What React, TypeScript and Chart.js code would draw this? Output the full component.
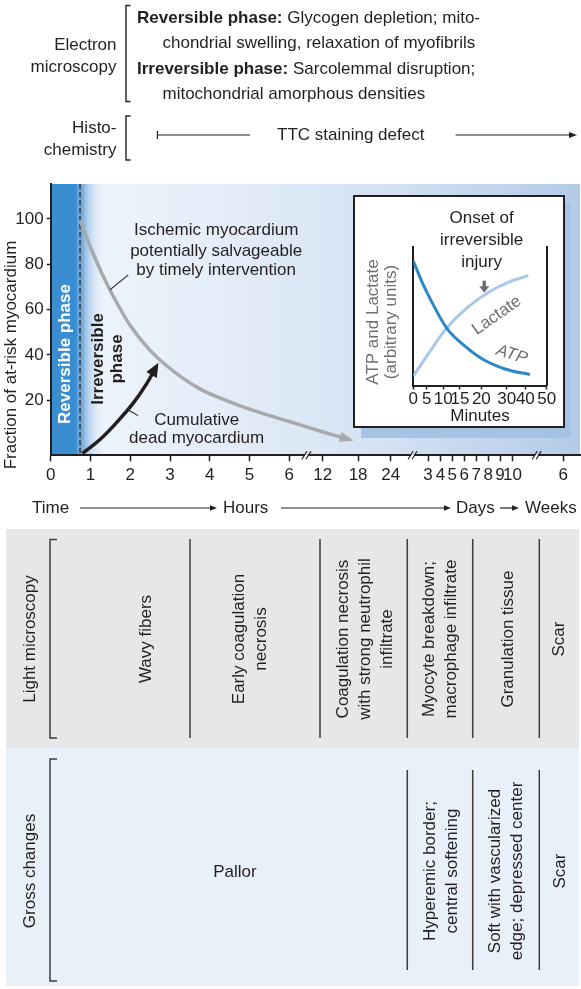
import React, { useEffect, useRef } from 'react';
import { Chart, registerables } from 'chart.js';

Chart.register(...registerables);

const FONT = '"Liberation Sans", Arial, Helvetica, sans-serif';
const INK = '#231f20';

// ===== Main chart data (broken time axis; 1 axis unit = 1 hour on the hours segment) =====
const timeTickValues = [0, 1, 2, 3, 4, 5, 6, 6.84, 7.73, 8.55, 9.49, 9.8, 10.1, 10.4, 10.7, 11.0, 11.3, 11.61, 12.89];
const timeTickLabels = ['0', '1', '2', '3', '4', '5', '6', '12', '18', '24', '3', '4', '5', '6', '7', '8', '9', '10', '6'];
const axisBreaks = [6.43, 9.1, 12.22];
const fractionTicks = [20, 40, 60, 80, 100];

const salvageableTime = [0.74, 1.0, 1.3, 1.6, 2.0, 2.5, 3.0, 3.75, 4.5, 5.25, 6.0, 6.85, 7.52];
const salvageableFraction = [99.5, 87.5, 75.5, 65, 53, 42, 34, 25, 19.3, 14.6, 10.6, 6.0, 2.6];

const deadTime = [0.8, 1.24, 1.66, 2.08, 2.41, 2.66];
const deadFraction = [-3.4, 2.7, 10.2, 18.8, 27.2, 35];

const reversibleEnd = 0.737;

// ===== Inset data =====
const minuteTickValues = [0, 5, 11.2, 17.5, 25.5, 35.0, 42.0, 50];
const minuteTickLabels = ['0', '5', '10', '15', '20', '30', '40', '50'];
const atpMinutes = [0, 3.75, 7.5, 12.5, 18.7, 26.2, 35, 43.7];
const atpLevel = [89.7, 72.5, 58.1, 41.4, 29.4, 18.7, 11.5, 7.9];
const lactateMinutes = [0, 6.26, 12.5, 20, 28.7, 36.2, 43.1];
const lactateLevel = [6.7, 24.6, 41.4, 55.8, 67.7, 74.9, 79.2];

// ===== layout constants =====
const MAIN_H = 520;
const INSET = { left: 353, top: 195, w: 212, h: 233 };

function arrowHead(ctx: CanvasRenderingContext2D, tipX: number, tipY: number, dx: number, dy: number, len: number, half: number, color: string) {
  const d = Math.hypot(dx, dy) || 1;
  const ux = dx / d, uy = dy / d;
  const bx = tipX - ux * len, by = tipY - uy * len;
  ctx.beginPath();
  ctx.moveTo(tipX, tipY);
  ctx.lineTo(bx - uy * half, by + ux * half);
  ctx.lineTo(bx + uy * half, by - ux * half);
  ctx.closePath();
  ctx.fillStyle = color;
  ctx.fill();
}

function hArrow(ctx: CanvasRenderingContext2D, x1: number, x2: number, y: number) {
  ctx.beginPath();
  ctx.moveTo(x1, y);
  ctx.lineTo(x2 - 5, y);
  ctx.lineWidth = 1.2;
  ctx.strokeStyle = INK;
  ctx.stroke();
  arrowHead(ctx, x2, y, 1, 0, 7, 2.8, INK);
}

const mainDecor = {
  id: 'mainDecor',
  beforeDraw(chart: any) {
    const { ctx, chartArea: { left, right, top, bottom } } = chart;
    const xs = chart.scales.x;
    const bx = xs.getPixelForValue(reversibleEnd);
    ctx.save();
    const g = ctx.createLinearGradient(bx, 0, right, 0);
    g.addColorStop(0, '#eef4fb');
    g.addColorStop(0.3, '#e3edf8');
    g.addColorStop(0.65, '#d1e0f2');
    g.addColorStop(1, '#b3cbe8');
    ctx.fillStyle = g;
    ctx.fillRect(left, top, right - left, bottom - top);
    const g2 = ctx.createLinearGradient(bx, 0, bx + 24, 0);
    g2.addColorStop(0, 'rgba(70,146,210,0.9)');
    g2.addColorStop(0.35, 'rgba(125,175,226,0.5)');
    g2.addColorStop(1, 'rgba(225,236,248,0)');
    ctx.fillStyle = g2;
    ctx.fillRect(bx, top, 24, bottom - top);
    ctx.fillStyle = '#6aa6dc';
    ctx.fillRect(bx - 3, top, 3, bottom - top);
    ctx.fillStyle = '#3a8dd0';
    ctx.fillRect(left, top, bx - 3 - left, bottom - top);
    ctx.restore();
  },
  beforeDatasetsDraw(chart: any) {
    const { ctx, chartArea: { top, bottom } } = chart;
    const x = chart.scales.x.getPixelForValue(reversibleEnd);
    ctx.save();
    ctx.setLineDash([5, 3]);
    ctx.strokeStyle = '#3b3b3b';
    ctx.lineWidth = 1.5;
    ctx.beginPath();
    ctx.moveTo(x, top);
    ctx.lineTo(x, bottom);
    ctx.stroke();
    ctx.restore();
  },
  afterDatasetsDraw(chart: any) {
    const { ctx } = chart;
    const xs = chart.scales.x, ys = chart.scales.y;
    const P = (x: number, y: number) => [xs.getPixelForValue(x), ys.getPixelForValue(y)];
    ctx.save();
    // arrowheads at curve ends
    const heads = [{ i: 0, color: '#a7a9ac', len: 14, half: 5 }, { i: 1, color: INK, len: 14, half: 6 }];
    heads.forEach((h) => {
      const pts = chart.getDatasetMeta(h.i).data;
      const last = pts[pts.length - 1];
      const prev = pts[pts.length - 2];
      const dx = last.x - prev.x, dy = last.y - prev.y;
      const d = Math.hypot(dx, dy);
      arrowHead(ctx, last.x + (dx / d) * 4, last.y + (dy / d) * 4, dx, dy, h.len, h.half, h.color);
    });
    // leader lines
    ctx.strokeStyle = INK;
    ctx.lineWidth = 1.1;
    const leaders = [[1.49, 68.7, 1.95, 75.3], [1.95, 15.7, 2.2, 13.2]];
    leaders.forEach(([a, b, c, d]) => {
      const [x1, y1] = P(a, b), [x2, y2] = P(c, d);
      ctx.beginPath();
      ctx.moveTo(x1, y1);
      ctx.lineTo(x2, y2);
      ctx.stroke();
    });
    // labels
    ctx.fillStyle = INK;
    ctx.textAlign = 'center';
    ctx.textBaseline = 'middle';
    ctx.font = `17px ${FONT}`;
    const ischemic = ['Ischemic myocardium', 'potentially salvageable', 'by timely intervention'];
    const ischemicY = [95.15, 85.9, 77.1];
    ischemic.forEach((t, i) => { const [x, y] = P(4.16, ischemicY[i]); ctx.fillText(t, x, y); });
    const dead = ['Cumulative', 'dead myocardium'];
    const deadY = [11.3, 3.25];
    dead.forEach((t, i) => { const [x, y] = P(3.67, deadY[i]); ctx.fillText(t, x, y); });
    // rotated phase labels
    const rot = (t: string, x: number, y: number, color: string) => {
      const [px, py] = P(x, y);
      ctx.save();
      ctx.translate(px, py);
      ctx.rotate(-Math.PI / 2);
      ctx.fillStyle = color;
      ctx.font = `bold 17px ${FONT}`;
      ctx.fillText(t, 0, 0);
      ctx.restore();
    };
    rot('Reversible phase', 0.377, 40.4, '#ffffff');
    rot('Irreversible', 1.19, 38.2, INK);
    rot('phase', 1.667, 38.2, INK);
    ctx.restore();
  },
  afterDraw(chart: any) {
    const { ctx, chartArea: { bottom } } = chart;
    const xs = chart.scales.x;
    ctx.save();
    // axis break marks
    ctx.strokeStyle = INK;
    ctx.lineWidth = 1.2;
    axisBreaks.forEach((b) => {
      const x = xs.getPixelForValue(b);
      ctx.fillStyle = '#ffffff';
      ctx.fillRect(x - 1.5, bottom - 1.2, 3, 2.4);
      [-2, 2].forEach((o) => {
        ctx.beginPath();
        ctx.moveTo(x + o - 2.5, bottom + 4);
        ctx.lineTo(x + o + 2.5, bottom - 4);
        ctx.stroke();
      });
    });
    // y axis title
    ctx.fillStyle = INK;
    ctx.font = `17px ${FONT}`;
    ctx.textAlign = 'center';
    ctx.textBaseline = 'middle';
    ctx.save();
    ctx.translate(11, 355);
    ctx.rotate(-Math.PI / 2);
    ctx.fillText('Fraction of at-risk myocardium', 0, 0);
    ctx.restore();
    // time row
    const ty = 508;
    ctx.textAlign = 'left';
    ctx.fillText('Time', 32, ty);
    hArrow(ctx, 80, 217, ty);
    ctx.fillText('Hours', 223, ty);
    hArrow(ctx, 281, 451, ty);
    ctx.fillText('Days', 456, ty);
    hArrow(ctx, 500, 519, ty);
    ctx.fillText('Weeks', 525, ty);
    ctx.restore();
  },
};

const insetDecor = {
  id: 'insetDecor',
  afterDraw(chart: any) {
    const { ctx } = chart;
    const xs = chart.scales.x, ys = chart.scales.y;
    const P = (x: number, y: number) => [xs.getPixelForValue(x), ys.getPixelForValue(y)];
    ctx.save();
    ctx.fillStyle = INK;
    ctx.font = `17px ${FONT}`;
    ctx.textAlign = 'center';
    ctx.textBaseline = 'middle';
    const onset = ['Onset of', 'irreversible', 'injury'];
    const onsetY = [120.3, 104.8, 88.9];
    onset.forEach((t, i) => { const [x, y] = P(25.6, onsetY[i]); ctx.fillText(t, x, y); });
    // grey arrow
    const [ax, ay1] = P(26.6, 75.5);
    const [, ay2] = P(26.6, 71.5);
    const [, ay3] = P(26.6, 66.9);
    ctx.strokeStyle = '#6d6e71';
    ctx.lineWidth = 3.5;
    ctx.beginPath();
    ctx.moveTo(ax, ay1);
    ctx.lineTo(ax, ay2 + 1);
    ctx.stroke();
    arrowHead(ctx, ax, ay3, 0, 1, ay3 - ay2, 5, '#6d6e71');
    // curve labels
    const [lx, ly] = P(31.3, 50.5);
    ctx.save();
    ctx.translate(lx, ly);
    ctx.rotate(-35 * Math.PI / 180);
    ctx.fillText('Lactate', 0, 0);
    ctx.restore();
    const [tx, ty] = P(36.9, 22.3);
    ctx.save();
    ctx.translate(tx, ty);
    ctx.rotate(17 * Math.PI / 180);
    ctx.font = `italic 17px ${FONT}`;
    ctx.fillText('ATP', 0, 0);
    ctx.restore();
    // y title
    ctx.save();
    ctx.translate(20.3, 127);
    ctx.rotate(-Math.PI / 2);
    ctx.fillText('ATP and Lactate', 0, 0);
    ctx.restore();
    ctx.save();
    ctx.translate(38.7, 127);
    ctx.rotate(-Math.PI / 2);
    ctx.fillText('(arbitrary units)', 0, 0);
    ctx.restore();
    ctx.restore();
  },
};

function mainConfig(): any {
  return {
    type: 'line',
    data: {
      datasets: [
        {
          label: 'Ischemic myocardium potentially salvageable',
          data: salvageableTime.map((x, i) => ({ x, y: salvageableFraction[i] })),
          borderColor: '#a7a9ac', borderWidth: 3.5, pointRadius: 0, cubicInterpolationMode: 'monotone', fill: false,
        },
        {
          label: 'Cumulative dead myocardium',
          data: deadTime.map((x, i) => ({ x, y: deadFraction[i] })),
          borderColor: INK, borderWidth: 3.5, pointRadius: 0, tension: 0.4, fill: false,
        },
      ],
    },
    options: {
      animation: false, responsive: false, devicePixelRatio: 1, events: [],
      layout: { padding: { left: 0, right: 1, top: 184, bottom: MAIN_H - 455.3 - 30 } },
      plugins: { legend: { display: false }, tooltip: { enabled: false } },
      scales: {
        x: {
          type: 'linear', min: 0, max: 13.31,
          afterBuildTicks: (s: any) => { s.ticks = timeTickValues.map((v) => ({ value: v })); },
          afterFit: (s: any) => { s.height = 30; },
          ticks: {
            autoSkip: false, maxRotation: 0, minRotation: 0, padding: 4, color: INK,
            font: { family: FONT, size: 17 }, callback: (_v: any, i: number) => timeTickLabels[i],
          },
          grid: { display: true, drawOnChartArea: false, drawTicks: true, tickLength: 6, tickWidth: 1.5, tickColor: INK },
          border: { display: true, color: INK, width: 2 },
        },
        y: {
          type: 'linear', min: -4.3, max: 115.4,
          afterBuildTicks: (s: any) => { s.ticks = fractionTicks.map((v) => ({ value: v })); },
          afterFit: (s: any) => { s.width = 50.7; },
          ticks: { padding: 3, color: INK, font: { family: FONT, size: 17 } },
          grid: { display: true, drawOnChartArea: false, drawTicks: true, tickLength: 4, tickWidth: 1.5, tickColor: INK },
          border: { display: true, color: INK, width: 2 },
        },
      },
    },
    plugins: [mainDecor],
  };
}

function insetConfig(): any {
  const chartLeft = 413.3 - INSET.left;
  const chartRight = 546.7 - INSET.left;
  const chartTop = 246.7 - INSET.top;
  const chartBottom = 385.5 - INSET.top;
  const padBottom = 1;
  return {
    type: 'line',
    data: {
      datasets: [
        {
          label: 'ATP',
          data: atpMinutes.map((x, i) => ({ x, y: atpLevel[i] })),
          borderColor: '#2b87c8', borderWidth: 3, pointRadius: 0, cubicInterpolationMode: 'monotone', fill: false,
        },
        {
          label: 'Lactate',
          data: lactateMinutes.map((x, i) => ({ x, y: lactateLevel[i] })),
          borderColor: '#a9c8e8', borderWidth: 3, pointRadius: 0, cubicInterpolationMode: 'monotone', fill: false,
        },
      ],
    },
    options: {
      animation: false, responsive: false, devicePixelRatio: 1, events: [],
      layout: { padding: { left: 0, right: INSET.w - chartRight, top: chartTop, bottom: padBottom } },
      plugins: { legend: { display: false }, tooltip: { enabled: false } },
      scales: {
        x: {
          type: 'linear', min: 0, max: 50,
          afterBuildTicks: (s: any) => { s.ticks = minuteTickValues.map((v) => ({ value: v })); },
          afterFit: (s: any) => { s.height = INSET.h - padBottom - chartBottom; },
          ticks: {
            autoSkip: false, maxRotation: 0, minRotation: 0, padding: 0, color: INK,
            font: { family: FONT, size: 17 }, callback: (_v: any, i: number) => minuteTickLabels[i],
          },
          grid: { display: true, drawOnChartArea: false, drawTicks: true, tickLength: 4, tickWidth: 1.5, tickColor: INK },
          border: { display: true, color: INK, width: 2 },
          title: { display: true, text: 'Minutes', color: INK, font: { family: FONT, size: 17 }, padding: { top: 0, bottom: 0 } },
        },
        y: {
          type: 'linear', min: 0, max: 100,
          afterFit: (s: any) => { s.width = chartLeft; },
          ticks: { display: false },
          grid: { display: false },
          border: { display: true, color: INK, width: 2 },
        },
        y2: {
          type: 'linear', position: 'right', min: 0, max: 100,
          afterFit: (s: any) => { s.width = 0; },
          ticks: { display: false },
          grid: { display: false },
          border: { display: true, color: INK, width: 2 },
        },
      },
    },
    plugins: [insetDecor],
  };
}

const base: React.CSSProperties = {
  position: 'absolute', fontFamily: FONT, fontSize: 17, color: INK, whiteSpace: 'nowrap', lineHeight: '22px',
};

function VText({ x, y, lines }: { x: number; y: number; lines: string[] }) {
  return (
    <div style={{ ...base, left: x, top: y, textAlign: 'center', transform: 'translate(-50%,-50%) rotate(-90deg)' }}>
      {lines.map((l, i) => <div key={i}>{l}</div>)}
    </div>
  );
}

const lightItems: { x: number; lines: string[] }[] = [
  { x: 29.6, lines: ['Light microscopy'] },
  { x: 146, lines: ['Wavy fibers'] },
  { x: 250, lines: ['Early coagulation', 'necrosis'] },
  { x: 365, lines: ['Coagulation necrosis', 'with strong neutrophil', 'infiltrate'] },
  { x: 440, lines: ['Myocyte breakdown;', 'macrophage infiltrate'] },
  { x: 508, lines: ['Granulation tissue'] },
  { x: 559, lines: ['Scar'] },
];
const grossItems: { x: number; lines: string[] }[] = [
  { x: 29.6, lines: ['Gross changes'] },
  { x: 441, lines: ['Hyperemic border;', 'central softening'] },
  { x: 506, lines: ['Soft with vascularized', 'edge; depressed center'] },
  { x: 560, lines: ['Scar'] },
];
const lightDividers = [190, 320, 407.3, 472.7, 539.3];
const grossDividers = [407.3, 472.7, 539.3];

export default function App() {
  const mainRef = useRef<HTMLCanvasElement>(null);
  const insetRef = useRef<HTMLCanvasElement>(null);
  useEffect(() => {
    const main = new Chart(mainRef.current as HTMLCanvasElement, mainConfig());
    const inset = new Chart(insetRef.current as HTMLCanvasElement, insetConfig());
    return () => { main.destroy(); inset.destroy(); };
  }, []);

  return (
    <div style={{ position: 'absolute', left: 0, top: 0, width: 581, height: 989, background: '#ffffff', overflow: 'hidden' }}>
      {/* bottom panels */}
      <div style={{ position: 'absolute', left: 6, top: 529, width: 573, height: 218.5, background: '#e6e7e8' }} />
      <div style={{ position: 'absolute', left: 6, top: 747.5, width: 573, height: 238.5, background: '#e8f0f9' }} />

      <canvas ref={mainRef} width={581} height={MAIN_H} style={{ position: 'absolute', left: 0, top: 0, width: 581, height: MAIN_H }} />

      {/* inset */}
      <div style={{ position: 'absolute', left: INSET.left + 8, top: INSET.top + 8, width: INSET.w - 2, height: INSET.h + 2, background: '#a5c3e4' }} />
      <div style={{ position: 'absolute', left: INSET.left, top: INSET.top, width: INSET.w, height: INSET.h, background: '#ffffff', border: `2px solid ${INK}`, boxSizing: 'border-box' }} />
      <canvas ref={insetRef} width={INSET.w} height={INSET.h} style={{ position: 'absolute', left: INSET.left, top: INSET.top, width: INSET.w, height: INSET.h }} />

      <svg width={581} height={989} style={{ position: 'absolute', left: 0, top: 0, pointerEvents: 'none' }}>
        <g fill="none" stroke={INK} strokeWidth={1.4}>
          <polyline points="130.5,5.5 126,5.5 126,101.5 130.5,101.5" />
          <polyline points="130.5,116 126,116 126,160 130.5,160" />
          <line x1={157.4} y1={135} x2={250} y2={135} strokeWidth={1.2} />
          <line x1={157.4} y1={131} x2={157.4} y2={139} strokeWidth={1.2} />
          <line x1={455.6} y1={135} x2={570} y2={135} strokeWidth={1.2} />
        </g>
        <polygon points="577,135 569,132 569,138" fill={INK} />
        <g fill="none" stroke="#3c3c3c" strokeWidth={1.5}>
          <polyline points="57,539.5 50,539.5 50,738 57,738" />
          <polyline points="57,759 50,759 50,981 57,981" />
          {lightDividers.map((x) => <line key={'l' + x} x1={x} y1={539} x2={x} y2={738} />)}
          {grossDividers.map((x) => <line key={'g' + x} x1={x} y1={770} x2={x} y2={970} />)}
        </g>
      </svg>

      {/* top section text */}
      <div style={{ ...base, left: 0, width: 116.5, top: 34, textAlign: 'right' }}>
        <div>Electron</div>
        <div>microscopy</div>
      </div>
      <div style={{ ...base, left: 137, top: 7 }}><b>Reversible phase:</b> Glycogen depletion; mito-</div>
      <div style={{ ...base, left: 162.5, top: 32 }}>chondrial swelling, relaxation of myofibrils</div>
      <div style={{ ...base, left: 137, top: 58 }}><b>Irreversible phase:</b> Sarcolemmal disruption;</div>
      <div style={{ ...base, left: 162.5, top: 83 }}>mitochondrial amorphous densities</div>
      <div style={{ ...base, left: 0, width: 116.5, top: 117, textAlign: 'right' }}>
        <div>Histo-</div>
        <div>chemistry</div>
      </div>
      <div style={{ ...base, left: 277, top: 124 }}>TTC staining defect</div>

      {/* bottom panel text */}
      {lightItems.map((it, i) => <VText key={'lt' + i} x={it.x} y={639} lines={it.lines} />)}
      {grossItems.map((it, i) => <VText key={'gt' + i} x={it.x} y={871} lines={it.lines} />)}
      <div style={{ ...base, left: 235, top: 872, transform: 'translate(-50%,-50%)' }}>Pallor</div>
    </div>
  );
}
